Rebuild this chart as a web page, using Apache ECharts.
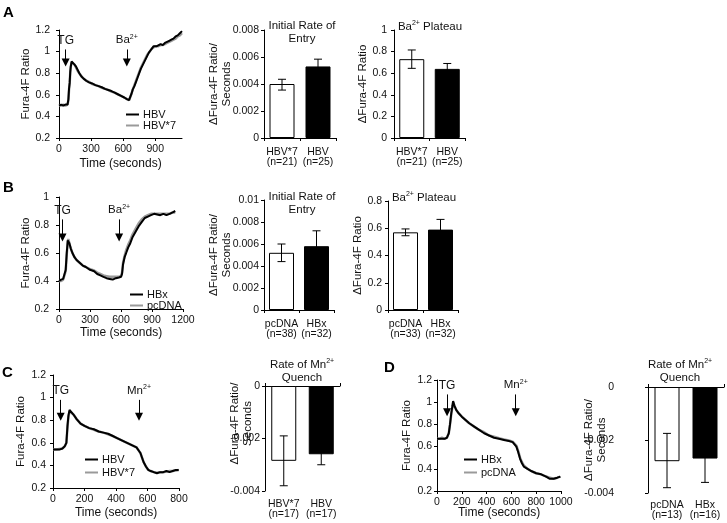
<!DOCTYPE html>
<html><head><meta charset="utf-8">
<script src="https://cdn.jsdelivr.net/npm/echarts@6/dist/echarts.min.js"></script>
<style>html,body{margin:0;padding:0;background:#fff}#c{width:727px;height:523px}</style>
</head><body><div id="c"></div>
<script>
const FONT = '"Liberation Sans", Arial, Helvetica, sans-serif';
const BLACK = '#000';
const GRAY = '#9a9a9a';

// ---------- Panel A: time course (HBV vs HBV*7) ----------
const traceA_HBV = [[0,0.50],[20,0.51],[40,0.50],[60,0.51],[80,0.51],[88,0.56],[94,0.66],[100,0.71],[105,0.81],[110,0.86],[118,0.91],[130,0.90],[145,0.88],[160,0.86],[175,0.83],[190,0.80],[210,0.77],[230,0.75],[255,0.73],[280,0.715],[310,0.705],[340,0.69],[370,0.68],[400,0.67],[430,0.655],[460,0.645],[490,0.635],[520,0.62],[550,0.605],[580,0.59],[610,0.575],[635,0.56],[655,0.55],[668,0.555],[678,0.61],[690,0.65],[705,0.68],[720,0.72],[735,0.76],[750,0.80],[765,0.84],[780,0.87],[795,0.90],[810,0.93],[825,0.96],[840,0.99],[855,1.01],[870,1.03],[885,1.05],[900,1.06],[915,1.05],[930,1.06],[950,1.07],[970,1.06],[990,1.08],[1010,1.09],[1030,1.10],[1050,1.11],[1070,1.12],[1090,1.14],[1110,1.15],[1130,1.17],[1150,1.19]];
const traceA_HBV7 = [[0,0.50],[20,0.50],[40,0.51],[60,0.50],[80,0.51],[88,0.55],[94,0.65],[100,0.71],[105,0.80],[110,0.86],[118,0.90],[130,0.90],[145,0.88],[160,0.85],[175,0.82],[190,0.80],[210,0.77],[230,0.75],[255,0.73],[280,0.72],[310,0.70],[340,0.69],[370,0.68],[400,0.665],[430,0.655],[460,0.645],[490,0.63],[520,0.62],[550,0.605],[580,0.59],[610,0.575],[635,0.56],[655,0.55],[668,0.56],[678,0.61],[690,0.65],[705,0.69],[720,0.73],[735,0.77],[750,0.81],[765,0.85],[780,0.88],[795,0.91],[810,0.94],[825,0.97],[840,0.99],[855,1.01],[870,1.03],[885,1.04],[900,1.05],[915,1.05],[930,1.05],[950,1.06],[970,1.06],[990,1.07],[1010,1.08],[1030,1.09],[1050,1.10],[1070,1.11],[1090,1.12],[1110,1.14],[1130,1.15],[1150,1.17]];
const eventsA = ['TG', 'Ba'];
const eventTimesA = [62, 634];

const catsA2 = ['HBV*7\n(n=21)', 'HBV\n(n=25)'];
const meansA2 = [0.0040, 0.0053];
const errLowA2 = [0.00355, 0.0048];
const errHighA2 = [0.00435, 0.00584];

const catsA3 = ['HBV*7\n(n=21)', 'HBV\n(n=25)'];
const meansA3 = [0.73, 0.64];
const errLowA3 = [0.645, 0.60];
const errHighA3 = [0.815, 0.69];

// ---------- Panel B: time course (HBx vs pcDNA) ----------
const traceB_HBx = [[0,0.40],[20,0.41],[40,0.415],[55,0.42],[65,0.48],[75,0.60],[85,0.69],[90,0.70],[100,0.67],[115,0.63],[130,0.60],[150,0.57],[170,0.55],[200,0.53],[230,0.51],[260,0.50],[300,0.48],[340,0.47],[370,0.45],[400,0.44],[430,0.43],[460,0.42],[490,0.415],[520,0.41],[550,0.42],[580,0.425],[600,0.43],[610,0.45],[620,0.52],[635,0.57],[650,0.60],[670,0.64],[690,0.67],[710,0.71],[740,0.75],[770,0.79],[800,0.82],[830,0.85],[860,0.86],[890,0.87],[920,0.88],[950,0.875],[980,0.87],[1010,0.88],[1040,0.87],[1070,0.88],[1100,0.89],[1125,0.90]];
const traceB_pcDNA = [[0,0.40],[20,0.40],[40,0.41],[55,0.42],[65,0.47],[75,0.59],[85,0.68],[90,0.70],[100,0.67],[115,0.63],[130,0.60],[150,0.57],[170,0.55],[200,0.53],[230,0.51],[260,0.50],[300,0.485],[340,0.475],[370,0.46],[400,0.45],[430,0.44],[460,0.435],[490,0.43],[520,0.43],[550,0.43],[580,0.43],[600,0.435],[610,0.46],[620,0.53],[635,0.58],[650,0.62],[670,0.66],[690,0.69],[710,0.73],[740,0.77],[770,0.81],[800,0.84],[830,0.86],[860,0.87],[890,0.88],[920,0.88],[950,0.88],[980,0.88],[1010,0.88],[1040,0.88],[1070,0.88],[1100,0.89],[1125,0.89]];
const eventsB = ['TG', 'Ba'];
const eventTimesB = [34, 582];

const catsB2 = ['pcDNA\n(n=38)', 'HBx\n(n=32)'];
const meansB2 = [0.0052, 0.0058];
const errLowB2 = [0.0044, 0.0045];
const errHighB2 = [0.0060, 0.0072];

const catsB3 = ['pcDNA\n(n=33)', 'HBx\n(n=32)'];
const meansB3 = [0.57, 0.59];
const errLowB3 = [0.545, 0.52];
const errHighB3 = [0.595, 0.665];

// ---------- Panel C: Mn2+ quench (HBV vs HBV*7) ----------
const traceC_HBV = [[0,0.54],[20,0.54],[40,0.54],[60,0.55],[75,0.57],[85,0.60],[92,0.75],[98,0.84],[105,0.89],[115,0.88],[130,0.85],[150,0.81],[175,0.77],[200,0.75],[230,0.73],[260,0.72],[290,0.70],[320,0.69],[350,0.68],[380,0.66],[410,0.64],[440,0.62],[470,0.60],[500,0.58],[530,0.56],[545,0.53],[555,0.51],[565,0.47],[575,0.43],[590,0.39],[605,0.36],[620,0.35],[640,0.34],[660,0.33],[680,0.34],[700,0.34],[720,0.35],[740,0.34],[760,0.35],[780,0.36],[798,0.36]];
const traceC_HBV7 = [[0,0.54],[20,0.54],[40,0.545],[60,0.55],[75,0.57],[85,0.60],[92,0.74],[98,0.83],[105,0.88],[115,0.88],[130,0.85],[150,0.81],[175,0.77],[200,0.75],[230,0.73],[260,0.715],[290,0.70],[320,0.69],[350,0.675],[380,0.66],[410,0.64],[440,0.62],[470,0.60],[500,0.58],[530,0.56],[545,0.53],[555,0.51],[565,0.47],[575,0.43],[590,0.39],[605,0.36],[620,0.35],[640,0.34],[660,0.335],[680,0.34],[700,0.34],[720,0.345],[740,0.35],[760,0.35],[780,0.355],[798,0.36]];
const eventsC = ['TG', 'Mn'];
const eventTimesC = [49, 546];

const catsC2 = ['HBV*7\n(n=17)', 'HBV\n(n=17)'];
const meansC2 = [-0.00285, -0.0026];
const errLowC2 = [-0.0038, -0.0030];
const errHighC2 = [-0.0019, -0.0022];

// ---------- Panel D: Mn2+ quench (HBx vs pcDNA) ----------
const traceD_HBx = [[0,0.67],[20,0.67],[40,0.67],[60,0.67],[80,0.68],[95,0.72],[105,0.80],[115,0.90],[125,0.97],[130,1.01],[140,0.97],[155,0.93],[175,0.90],[200,0.87],[230,0.84],[260,0.81],[300,0.78],[340,0.75],[380,0.72],[420,0.70],[460,0.68],[500,0.67],[540,0.66],[580,0.65],[610,0.64],[625,0.63],[640,0.60],[655,0.55],[670,0.49],[685,0.45],[700,0.42],[730,0.40],[760,0.38],[800,0.36],[840,0.35],[880,0.33],[910,0.31],[940,0.31],[970,0.32],[995,0.33]];
const traceD_pcDNA = [[0,0.67],[20,0.67],[40,0.68],[60,0.67],[80,0.68],[95,0.72],[105,0.80],[115,0.89],[125,0.96],[130,1.00],[140,0.97],[155,0.93],[175,0.90],[200,0.87],[230,0.84],[260,0.81],[300,0.78],[340,0.75],[380,0.73],[420,0.70],[460,0.69],[500,0.675],[540,0.665],[580,0.655],[610,0.645],[625,0.635],[640,0.61],[655,0.56],[670,0.50],[685,0.46],[700,0.43],[730,0.40],[760,0.38],[800,0.36],[840,0.35],[880,0.33],[910,0.32],[940,0.31],[970,0.32],[995,0.33]];
const eventsD = ['TG', 'Mn'];
const eventTimesD = [81, 635];

const catsD2 = ['pcDNA\n(n=13)', 'HBx\n(n=16)'];
const meansD2 = [-0.0028, -0.0027];
const errLowD2 = [-0.0038, -0.0036];
const errHighD2 = [-0.00175, -0.0018];

// ---------- helpers ----------
const axisLine = { show: true, lineStyle: { color: BLACK, width: 1 } };
const tick = { show: true, length: 3, lineStyle: { color: BLACK } };
const lbl = { color: '#111', fontFamily: FONT, fontSize: 10.5 };
const nameStyle = { color: '#111', fontFamily: FONT, fontSize: 11.5, lineHeight: 13 };
const supRich = {
  n: { fontFamily: FONT, fontSize: 11.5, color: '#111' },
  s: { fontFamily: FONT, fontSize: 7, color: '#111', verticalAlign: 'top', padding: [0, 0, 6, 0] }
};
const evLabel = { TG: 'TG', Ba: '{n|Ba}{s|2+}', Mn: '{n|Mn}{s|2+}' };

function valueX(grid, max, interval, hideMax, gap) {
  return { type: 'value', gridIndex: grid, min: 0, max: max, interval: interval,
    axisLine: axisLine, axisTick: tick, splitLine: { show: false },
    axisLabel: Object.assign({ margin: 6, showMaxLabel: !hideMax, formatter: v => String(v) }, lbl),
    name: 'Time (seconds)', nameLocation: 'middle', nameGap: gap, nameMoveOverlap: false,
    nameTextStyle: Object.assign({}, nameStyle, { fontSize: 12 }) };
}
function valueY(grid, min, max, interval, name, gap, margin) {
  return { type: 'value', gridIndex: grid, min: min, max: max, interval: interval,
    axisLine: axisLine, axisTick: tick, splitLine: { show: false },
    axisLabel: Object.assign({ margin: margin }, lbl),
    name: name, nameLocation: 'middle', nameGap: gap, nameMoveOverlap: false, nameTextStyle: Object.assign({}, nameStyle) };
}
function catX(grid, cats, extra) {
  return Object.assign({ type: 'category', gridIndex: grid, data: cats,
    axisLine: Object.assign({ onZero: false }, axisLine), axisTick: tick,
    axisLabel: Object.assign({ margin: 9, lineHeight: 10, interval: 0 }, lbl) }, extra || {});
}
function markArrows(names, times, y0, y1) {
  return {
    silent: true, symbol: ['none', 'triangle'], symbolSize: 8,
    lineStyle: { color: BLACK, width: 1, type: 'solid' },
    label: { show: true, position: 'start', distance: 3, color: '#111', fontFamily: FONT, fontSize: 12,
      align: 'center', verticalAlign: 'bottom',
      formatter: p => evLabel[p.name] || p.name, rich: supRich },
    data: names.map((n, i) => [{ name: n, coord: [times[i], y0] }, { coord: [times[i], y1] }])
  };
}
function traceSeries(name, data, color, width, xi, yi, extra) {
  return Object.assign({ type: 'line', name: name, data: data, xAxisIndex: xi, yAxisIndex: yi,
    showSymbol: false, symbol: 'none', lineStyle: { color: color, width: width }, itemStyle: { color: color },
    animation: false, z: color === BLACK ? 3 : 2 }, extra || {});
}
function barSeries(id, means, xi, yi) {
  return { type: 'bar', name: id, xAxisIndex: xi, yAxisIndex: yi, barWidth: 25, animation: false,
    data: means.map((v, i) => ({ value: v, itemStyle: { color: i === 0 ? '#fff' : BLACK, borderColor: BLACK, borderWidth: 1 } })) };
}
function errSeries(id, lo, hi, xi, yi) {
  return { type: 'custom', name: id, xAxisIndex: xi, yAxisIndex: yi, z: 5, animation: false,
    data: lo.map((l, i) => [i, l, hi[i]]),
    renderItem: function (params, api) {
      const a = api.coord([api.value(0), api.value(1)]);
      const b = api.coord([api.value(0), api.value(2)]);
      const w = 4, st = { stroke: BLACK, lineWidth: 1 };
      return { type: 'group', children: [
        { type: 'line', shape: { x1: a[0], y1: a[1], x2: b[0], y2: b[1] }, style: st },
        { type: 'line', shape: { x1: a[0] - w, y1: a[1], x2: a[0] + w, y2: a[1] }, style: st },
        { type: 'line', shape: { x1: b[0] - w, y1: b[1], x2: b[0] + w, y2: b[1] }, style: st }
      ] };
    } };
}

const grids = [
  { left: 59, top: 30, width: 123, height: 108 },   // 0 A1
  { left: 264, top: 30, width: 72, height: 108 },   // 1 A2
  { left: 394, top: 30, width: 71, height: 108 },   // 2 A3
  { left: 59, top: 197, width: 124, height: 112 },  // 3 B1
  { left: 264, top: 200, width: 70, height: 110 },  // 4 B2
  { left: 388, top: 201, width: 70, height: 109 },  // 5 B3
  { left: 53, top: 375, width: 126, height: 113 },  // 6 C1
  { left: 265, top: 386, width: 75, height: 105 },  // 7 C2
  { left: 437, top: 380, width: 124, height: 111 }, // 8 D1
  { left: 648, top: 387, width: 76, height: 106 }   // 9 D2
];

const xAxes = [
  valueX(0, 1150, 300, true, 19),        // 0
  catX(1, catsA2),                        // 1
  catX(2, catsA3),                        // 2
  valueX(3, 1200, 300, false, 17),       // 3
  catX(4, catsB2),                        // 4
  catX(5, catsB3),                        // 5
  valueX(6, 800, 200, false, 18),        // 6
  catX(7, catsC2, { axisLine: { show: false, onZero: false }, axisTick: { show: false } }), // 7
  catX(7, catsC2, { position: 'top', axisLabel: { show: false } }),                       // 8
  valueX(8, 1000, 200, false, 15),       // 9
  catX(9, catsD2, { axisLine: { show: false, onZero: false }, axisTick: { show: false } }), // 10
  catX(9, catsD2, { position: 'top', axisLabel: { show: false } })                        // 11
];
xAxes[7].axisLabel.margin = 8;
xAxes[10].axisLabel.margin = 7;
const yAxes = [
  valueY(0, 0.2, 1.2, 0.2, 'Fura-4F Ratio', 27, 9),
  valueY(1, 0, 0.008, 0.002, 'ΔFura-4F Ratio/\nSeconds', 31, 5),
  valueY(2, 0, 1, 0.2, 'ΔFura-4F Ratio', 25, 7),
  valueY(3, 0.2, 1, 0.2, 'Fura-4F Ratio', 27, 10),
  valueY(4, 0, 0.01, 0.002, 'ΔFura-4F Ratio/\nSeconds', 31, 5),
  valueY(5, 0, 0.8, 0.2, 'ΔFura-4F Ratio', 24, 6),
  valueY(6, 0.2, 1.2, 0.2, 'Fura-4F Ratio', 26, 7),
  valueY(7, -0.004, 0, 0.002, 'ΔFura-4F Ratio/\nSeconds', 11, 5),
  valueY(8, 0.2, 1.2, 0.2, 'Fura-4F Ratio', 24, 5),
  valueY(9, -0.004, 0, 0.002, 'ΔFura-4F Ratio/\nSeconds', 40, 34)
];
// C2 axis title sits a little above the axis middle in the original
yAxes[7].nameTextStyle.padding = [0, 0, 0, 30];

const series = [
  traceSeries('HBV*7', traceA_HBV7, GRAY, 2.5, 0, 0),
  traceSeries('HBV', traceA_HBV, BLACK, 2, 0, 0, { markLine: markArrows(eventsA, eventTimesA, 1.02, 0.90) }),
  barSeries('barA2', meansA2, 1, 1), errSeries('errA2', errLowA2, errHighA2, 1, 1),
  barSeries('barA3', meansA3, 2, 2), errSeries('errA3', errLowA3, errHighA3, 2, 2),
  traceSeries('pcDNA', traceB_pcDNA, GRAY, 2.5, 3, 3),
  traceSeries('HBx', traceB_HBx, BLACK, 2, 3, 3, { markLine: markArrows(eventsB, eventTimesB, 0.84, 0.71) }),
  barSeries('barB2', meansB2, 4, 4), errSeries('errB2', errLowB2, errHighB2, 4, 4),
  barSeries('barB3', meansB3, 5, 5), errSeries('errB3', errLowB3, errHighB3, 5, 5),
  traceSeries('HBV*7', traceC_HBV7, GRAY, 2.5, 6, 6),
  traceSeries('HBV', traceC_HBV, BLACK, 2, 6, 6, { markLine: markArrows(eventsC, eventTimesC, 0.98, 0.83) }),
  barSeries('barC2', meansC2, 7, 7), errSeries('errC2', errLowC2, errHighC2, 7, 7),
  traceSeries('pcDNA', traceD_pcDNA, GRAY, 2.5, 9, 8),
  traceSeries('HBx', traceD_HBx, BLACK, 2, 9, 8, { markLine: markArrows(eventsD, eventTimesD, 1.07, 0.91) }),
  barSeries('barD2', meansD2, 10, 9), errSeries('errD2', errLowD2, errHighD2, 10, 9)
];

const legendBase = { orient: 'vertical', icon: 'rect', itemWidth: 13, itemHeight: 2, itemGap: 0,
  textStyle: { fontFamily: FONT, fontSize: 11, color: '#111', padding: [0, 0, 0, -1] }, selectedMode: false };
const legends = [
  Object.assign({ left: 121, top: 104, data: ['HBV', 'HBV*7'] }, legendBase),
  Object.assign({ left: 125, top: 284, data: ['HBx', 'pcDNA'] }, legendBase),
  Object.assign({ left: 80, top: 449, data: ['HBV', 'HBV*7'] }, legendBase, { itemGap: 2 }),
  Object.assign({ left: 459, top: 449, data: ['HBx', 'pcDNA'] }, legendBase, { itemGap: 2 })
];

function txt(x, y, text, opts) {
  return { type: 'text', x: x, y: y, silent: true, style: Object.assign({ text: text, fill: '#111',
    font: '11.5px ' + FONT, align: 'center', verticalAlign: 'top', textAlign: 'center', textVerticalAlign: 'top',
    lineHeight: 13, rich: supRich }, opts || {}) };
}
const letter = { font: 'bold 15px ' + FONT, align: 'left', textAlign: 'left', fill: '#000' };
const graphics = [
  txt(3, 6, 'A', letter), txt(3, 181, 'B', letter), txt(2, 366, 'C', letter), txt(384, 361, 'D', letter),
  txt(302, 19, '{n|Initial Rate of}\n{n|Entry}'),
  txt(430, 20, '{n|Ba}{s|2+}{n| Plateau}'),
  txt(302, 190, '{n|Initial Rate of}\n{n|Entry}'),
  txt(424, 191, '{n|Ba}{s|2+}{n| Plateau}'),
  txt(302, 358, '{n|Rate of Mn}{s|2+}\n{n|Quench}'),
  txt(680, 358, '{n|Rate of Mn}{s|2+}\n{n|Quench}')
];

const chart = echarts.init(document.getElementById('c'), null, { renderer: 'canvas' });
chart.setOption({
  animation: false,
  backgroundColor: '#fff',
  textStyle: { fontFamily: FONT },
  grid: grids, xAxis: xAxes, yAxis: yAxes, series: series, legend: legends, graphic: graphics
});
</script></body></html>
